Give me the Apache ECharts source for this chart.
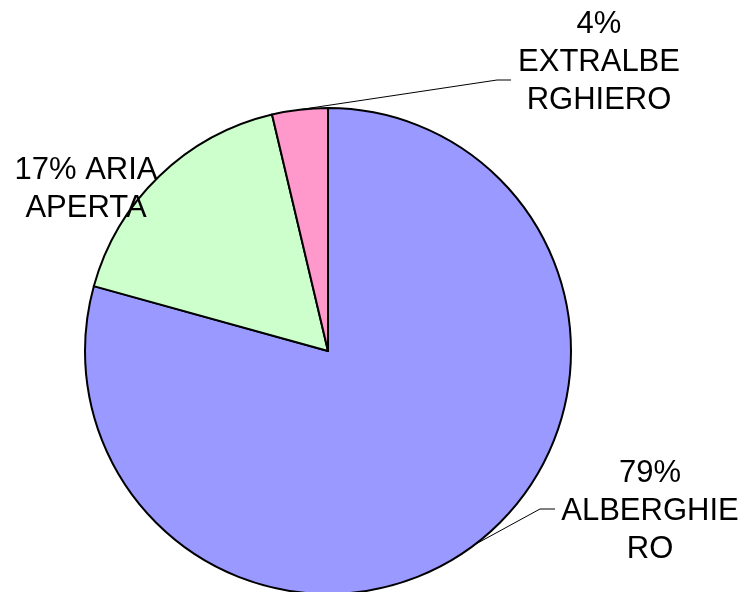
<!DOCTYPE html>
<html>
<head>
<meta charset="utf-8">
<script src="https://cdn.jsdelivr.net/npm/echarts@6/dist/echarts.min.js"></script>
<style>html,body{margin:0;padding:0;background:#fff}#c{width:745px;height:592px}</style>
</head>
<body>
<div id="c"></div>
<script>
var categories = ['ALBERGHIERO', 'ARIA APERTA', 'EXTRALBERGHIERO'];
var values = [79.3, 17.0, 3.7];
var labelTemplates = ['{p}\nALBERGHIE\nRO', '{p} ARIA\nAPERTA', '{p}\nEXTRALBE\nRGHIERO'];
var colors = ['#9999FF', '#CCFFCC', '#FF99CC'];
var showLeader = [true, false, true];

var labelPos = [
  {x: 650, y: 511, line: [[540, 509], [555, 509]]},
  {x: 86, y: 189, line: null},
  {x: 599, y: 62, line: [[497, 80], [511, 80]]}
];

var chart = echarts.init(document.getElementById('c'), null, {renderer: 'canvas'});
chart.setOption({
  animation: false,
  backgroundColor: '#ffffff',
  series: [{
    type: 'pie',
    center: [328, 351],
    radius: 243,
    startAngle: 90,
    clockwise: true,
    avoidLabelOverlap: false,
    data: categories.map(function (c, i) {
      return {name: c, value: values[i], itemStyle: {color: colors[i]},
        labelLine: {show: showLeader[i]}};
    }),
    itemStyle: {borderColor: '#000', borderWidth: 2},
    emphasis: {disabled: true},
    label: {
      show: true,
      position: 'outside',
      color: '#000',
      fontFamily: 'Liberation Sans, Arial, sans-serif',
      fontSize: 31,
      lineHeight: 38,
      align: 'center',
      overflow: 'none',
      width: 300,
      formatter: function (p) {
        return labelTemplates[p.dataIndex].replace('{p}', Math.round(p.percent) + '%');
      }
    },
    labelLine: {show: true, lineStyle: {color: '#000', width: 1}},
    labelLayout: function (params) {
      var lp = labelPos[params.dataIndex];
      var res = {x: lp.x, y: lp.y, align: 'center', verticalAlign: 'middle'};
      if (lp.line && params.labelLinePoints) {
        res.labelLinePoints = [params.labelLinePoints[0], lp.line[0], lp.line[1]];
      }
      return res;
    }
  }]
});
</script>
</body>
</html>
